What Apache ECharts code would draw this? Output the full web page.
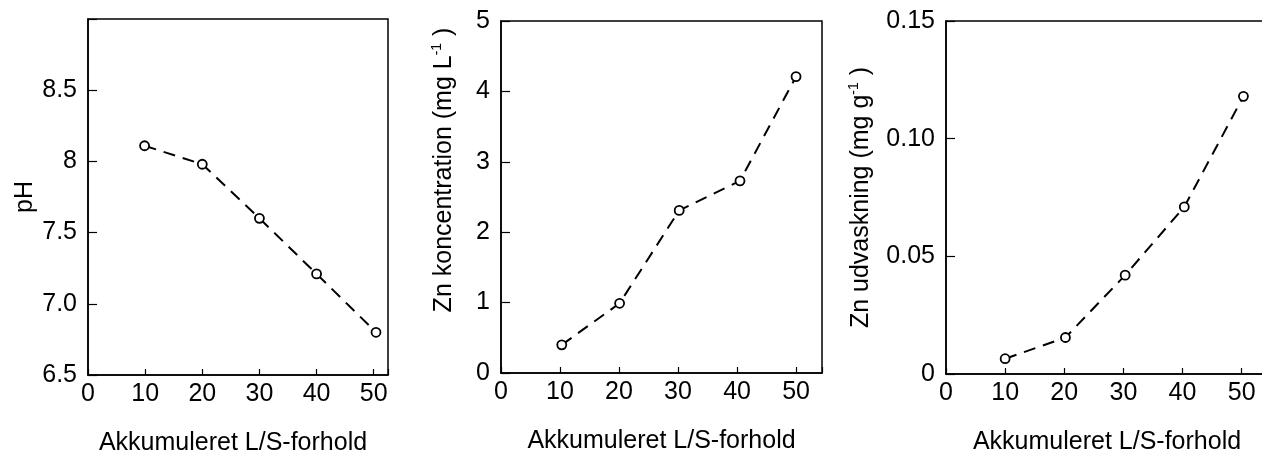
<!DOCTYPE html>
<html>
<head>
<meta charset="utf-8">
<script src="https://cdn.jsdelivr.net/npm/echarts@6/dist/echarts.min.js"></script>
<style>
  html, body { margin: 0; background: #fff; }
  #chart { width: 1262px; height: 454px; }
</style>
</head>
<body>
<div id="chart"></div>
<script>
// Akkumuleret L/S-forhold (x) for hver serie
const phX = [9.9, 20, 30, 40, 50.4];
const phY = [8.11, 7.98, 7.60, 7.21, 6.80];

const znConcX = [10.3, 20.1, 30.2, 40.5, 50];
const znConcY = [0.40, 0.99, 2.31, 2.73, 4.21];

const znLeachX = [10, 20.2, 30.3, 40.3, 50.3];
const znLeachY = [0.0065, 0.0155, 0.042, 0.071, 0.118];

// tick labels
const xTickLabels = ['0', '10', '20', '30', '40', '50'];
const phTickLabels = ['6.5', '7.0', '7.5', '8', '8.5', ''];
const znConcTickLabels = ['0', '1', '2', '3', '4', '5'];
const znLeachTickLabels = ['0', '0.05', '0.10', '0.15'];

const xTitle = 'Akkumuleret L/S-forhold';

const chart = echarts.init(document.getElementById('chart'));
const font = 'Liberation Sans';
const black = '#000';
const fs = 25;

const pairs = (xs, ys) => xs.map((x, i) => [x, ys[i]]);

function xAxisFor(idx, max, namePad) {
  return {
    type: 'value', gridIndex: idx, min: 0, max: max, interval: 10,
    name: xTitle, nameLocation: 'middle', nameGap: 56,
    nameTextStyle: { fontFamily: font, fontSize: fs, color: black, padding: namePad || 0 },
    axisLine: { show: true, lineStyle: { color: black, width: 1.5 } },
    axisTick: { show: true, inside: true, length: 6, lineStyle: { color: black, width: 1.2 } },
    axisLabel: {
      fontFamily: font, fontSize: fs, color: black, margin: 7,
      formatter: v => (v % 10 === 0 && v <= 50) ? xTickLabels[v / 10] : ''
    },
    splitLine: { show: false }
  };
}

function yAxisFor(idx, min, max, interval, labels, name, nameGap, namePad) {
  return {
    type: 'value', gridIndex: idx, min: min, max: max, interval: interval,
    name: name, nameLocation: 'middle', nameGap: nameGap, nameRotate: 90,
    nameTextStyle: {
      fontFamily: font, fontSize: fs, color: black, padding: namePad || 0,
      rich: {
        n: { fontFamily: font, fontSize: fs, color: black, lineHeight: 29 },
        s: { fontFamily: font, fontSize: 14, color: black, verticalAlign: 'top', lineHeight: 29 }
      }
    },
    axisLine: { show: true, lineStyle: { color: black, width: 1.5 } },
    axisTick: { show: true, inside: true, length: 9, lineStyle: { color: black, width: 1.2 } },
    axisLabel: {
      fontFamily: font, fontSize: fs, color: black, margin: 11,
      formatter: v => {
        const i = Math.round((v - min) / interval);
        return Math.abs(min + i * interval - v) < 1e-9 && labels[i] !== undefined ? labels[i] : '';
      }
    },
    splitLine: { show: false }
  };
}

function seriesFor(idx, data) {
  return {
    type: 'line', xAxisIndex: idx, yAxisIndex: idx, data: data,
    symbol: 'circle', symbolSize: 9,
    itemStyle: { color: '#fff', borderColor: black, borderWidth: 1.8 },
    lineStyle: { color: black, width: 2, type: [12, 8] },
    emphasis: { disabled: true },
    animation: false
  };
}

const gridStyle = {
  show: true, borderColor: black, borderWidth: 1.5, backgroundColor: 'transparent',
  outerBoundsMode: 'none', containLabel: false
};

const option = {
  backgroundColor: '#fff',
  animation: false,
  grid: [
    Object.assign({ left: 88, top: 19, width: 300, height: 356 }, gridStyle),
    Object.assign({ left: 501, top: 21, width: 321, height: 352 }, gridStyle),
    Object.assign({ left: 946, top: 21, width: 340, height: 353 }, gridStyle)
  ],
  xAxis: [
    xAxisFor(0, 52.5, [0, 10, 0, 0]),
    xAxisFor(1, 54.4),
    xAxisFor(2, 57.5, [0, 18, 0, 0])
  ],
  yAxis: [
    yAxisFor(0, 6.5, 9, 0.5, phTickLabels, 'pH', 50),
    yAxisFor(1, 0, 5, 1, znConcTickLabels, '{n|Zn koncentration (mg L}{s|-1}{n| )}', 42, [0, 0, 0, 54]),
    yAxisFor(2, 0, 0.15, 0.05, znLeachTickLabels, '{n|Zn udvaskning (mg g}{s|-1}{n| )}', 70)
  ],
  series: [
    seriesFor(0, pairs(phX, phY)),
    seriesFor(1, pairs(znConcX, znConcY)),
    seriesFor(2, pairs(znLeachX, znLeachY))
  ]
};

chart.setOption(option);
</script>
</body>
</html>
